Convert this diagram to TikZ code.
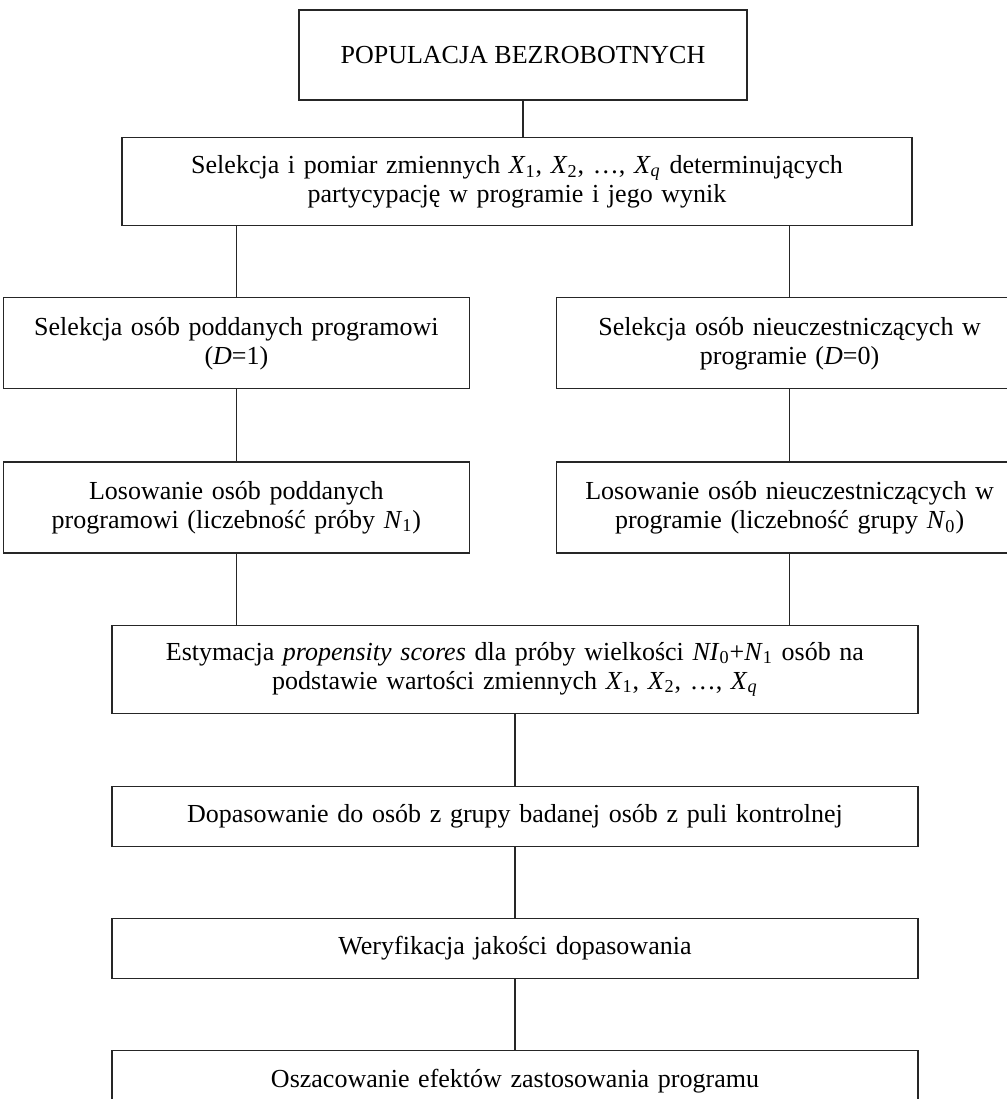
\documentclass[tikz,border=0pt]{standalone}
\usepackage{fontspec}
\setmainfont{Liberation Serif}
\usepackage{tikz}
\usetikzlibrary{positioning, calc}
\tikzstyle{title} = [rectangle, minimum width=224pt, minimum height=45pt, inner sep=0pt, text centered, draw=black!85, line width=.6pt, fill=white]
\tikzstyle{stage} = [rectangle, minimum width=403pt, text width=395pt, minimum height=44pt, inner sep=0pt, align=center, draw=black!85, line width=.6pt, fill=white]
\tikzstyle{branch} = [rectangle, minimum width=233pt, text width=225pt, minimum height=45.5pt, inner sep=0pt, align=center, draw=black!85, line width=.6pt, fill=white]
\tikzstyle{link} = [black!85, line width=.6pt]
\newcommand{\ix}[2]{\textit{#1}\textsubscript{#2}}

\begin{document}
\begin{tikzpicture}[x=.5pt, y=-.5pt, font=\fontsize{13}{14.5}\selectfont]
            \useasboundingbox (0,0) rectangle (1007,1099);
            \clip (0,0) rectangle (1007,1099);
            \node (pop) [title] at (523,55) {POPULACJA BEZROBOTNYCH};
            \node (sel) [stage, minimum width=389pt, anchor=north] at (517,137) {Selekcja i pomiar zmiennych \ix{X}{1}, \ix{X}{2}, …, \ix{X}{\textit{q}} determinujących\\ partycypację w programie i jego wynik};
            \node (selL) [branch, below=35.5pt of sel.south west, xshift=57.5pt] {Selekcja osób poddanych programowi\\ (\textit{D}=1)};
            \node (selR) [branch, below=35.5pt of sel.south east, xshift=-61.5pt] {Selekcja osób nieuczestniczących w\\ programie (\textit{D}=0)};
            \node (losL) [branch, below=36pt of selL] {Losowanie osób poddanych\\ programowi (liczebność próby \ix{N}{1})};
            \node (losR) [branch, below=36pt of selR] {Losowanie osób nieuczestniczących w\\ programie (liczebność grupy \ix{N}{0})};
            \node (est) [stage, anchor=north] at ($(losL.south -| sel.south)+(-2,71)$) {Estymacja \textit{propensity scores} dla próby wielkości \ix{NI}{0}+\ix{N}{1} osób na\\ podstawie wartości zmiennych \ix{X}{1}, \ix{X}{2}, …, \ix{X}{\textit{q}}};
            \node (dop) [stage, minimum height=30pt, below=36pt of est] {Dopasowanie do osób z grupy badanej osób z puli kontrolnej};
            \node (wer) [stage, minimum height=30pt, below=35.5pt of dop] {Weryfikacja jakości dopasowania};
            \node (osz) [stage, minimum height=30pt, below=35.5pt of wer] {Oszacowanie efektów zastosowania programu};

            \draw [link] (pop.south) -- (pop.south |- sel.north);
            \draw [link] (selL.north) -- (selL.north |- sel.south);
            \draw [link] (selR.north) -- (selR.north |- sel.south);
            \draw [link] (selL) -- (losL);
            \draw [link] (selR) -- (losR);
            \draw [link] (losL.south) -- (losL.south |- est.north);
            \draw [link] (losR.south) -- (losR.south |- est.north);
            \draw [link] (est) -- (dop);
            \draw [link] (dop) -- (wer);
            \draw [link] (wer) -- (osz);
        \end{tikzpicture}
\end{document}
